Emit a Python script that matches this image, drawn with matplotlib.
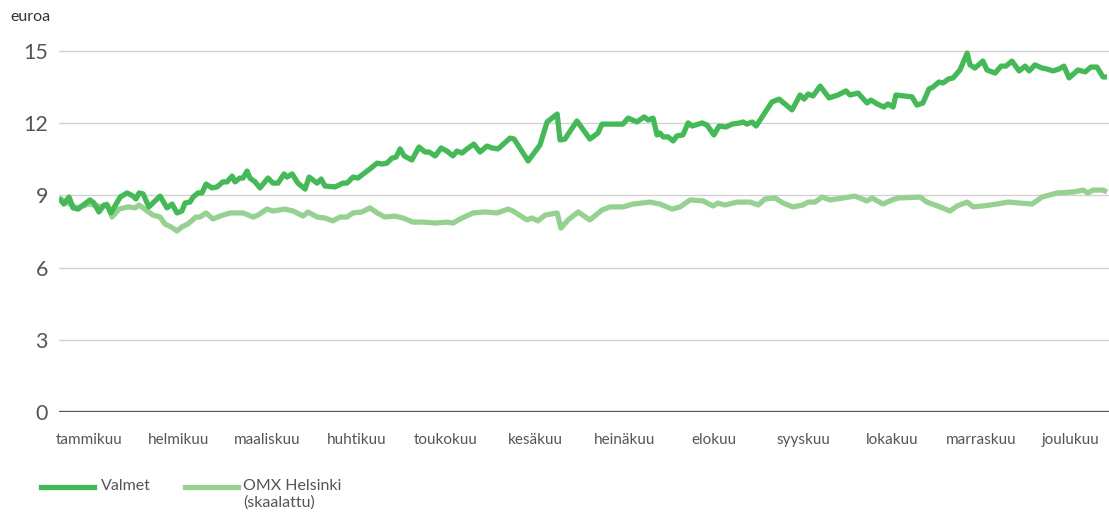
import matplotlib
matplotlib.use("Agg")
import matplotlib.pyplot as plt
from matplotlib.lines import Line2D

plt.rcParams['font.family'] = ['Lato', 'DejaVu Sans']

# day of year, share price (euro)
valmet_day = [0.0, 1.7, 3.5, 4.9, 6.6, 10.8, 12.2, 13.9, 15.7, 16.7, 18.1, 21.3, 23.7, 25.8,
              26.8, 27.9, 29.3, 31.3, 35.2, 37.6, 39.4, 41.1, 42.8, 43.9, 45.6, 46.7, 48.4,
              49.8, 51.2, 53.3, 55.0, 57.1, 58.5, 60.3, 61.3, 63.0, 64.1, 65.5, 66.5, 68.3,
              70.0, 72.8, 74.5, 76.3, 78.4, 79.4, 81.2, 83.2, 85.7, 87.1, 89.9, 91.3, 92.6,
              96.1, 98.9, 100.3, 102.4, 104.1, 108.3, 110.8, 112.5, 114.2, 116.0, 117.4,
              118.8, 120.2, 122.9, 125.4, 127.5, 128.9, 131.0, 133.1, 135.1, 137.2, 138.6,
              140.4, 142.1, 144.5, 146.6, 149.1, 150.8, 152.9, 157.1, 158.5, 163.4, 167.5,
              170.0, 171.7, 173.5, 174.5, 176.2, 180.4, 184.9, 187.7, 189.1, 194.4, 196.4,
              198.2, 201.3, 203.8, 205.2, 206.9, 208.3, 209.3, 210.4, 212.1, 213.9, 215.2,
              217.3, 219.1, 220.5, 224.0, 225.7, 228.1, 229.9, 232.3, 234.4, 237.2, 238.2,
              239.6, 241.4, 242.8, 248.3, 250.8, 255.3, 258.1, 259.5, 260.9, 262.6, 265.1,
              268.2, 271.3, 274.1, 275.5, 278.3, 281.4, 282.8, 284.9, 287.3, 288.7, 290.5,
              291.5, 297.1, 298.8, 300.9, 303.0, 304.4, 306.5, 307.9, 309.7, 311.4, 313.8,
              316.3, 317.3, 319.0, 321.8, 323.2, 326.0, 328.1, 329.8, 331.9, 334.4, 336.5,
              337.9, 339.9, 342.4, 344.1, 346.2, 348.3, 350.0, 351.8, 354.9, 357.4, 359.4,
              361.5, 363.6, 365.0]
valmet = [8.89, 8.64, 8.93, 8.48, 8.43, 8.81, 8.68, 8.31, 8.60, 8.60, 8.27, 8.93, 9.10, 8.97,
          8.85, 9.10, 9.06, 8.52, 8.97, 8.48, 8.64, 8.27, 8.35, 8.68, 8.72, 8.93, 9.10,
          9.10, 9.47, 9.31, 9.35, 9.56, 9.56, 9.80, 9.56, 9.72, 9.72, 10.01, 9.72, 9.56,
          9.31, 9.72, 9.51, 9.51, 9.89, 9.76, 9.89, 9.51, 9.26, 9.76, 9.51, 9.68, 9.39,
          9.35, 9.51, 9.51, 9.76, 9.72, 10.10, 10.34, 10.30, 10.34, 10.55, 10.59,
          10.93, 10.64, 10.47, 11.01, 10.80, 10.80, 10.64, 10.97, 10.84, 10.64, 10.84,
          10.76, 10.93, 11.13, 10.80, 11.05, 10.97, 10.93, 11.38, 11.34, 10.43, 11.09,
          12.05, 12.21, 12.38, 11.30, 11.34, 12.09, 11.34, 11.59, 11.96, 11.96, 11.96,
          12.21, 12.05, 12.26, 12.13, 12.21, 11.51, 11.59, 11.43, 11.43, 11.26, 11.47,
          11.51, 12.01, 11.88, 12.01, 11.92, 11.51, 11.88, 11.84, 11.96, 12.01, 12.05,
          11.96, 12.05, 11.88, 12.88, 13.00, 12.55, 13.17, 13.00, 13.21, 13.13, 13.54,
          13.05, 13.17, 13.34, 13.17, 13.25, 12.84, 12.96, 12.80, 12.67, 12.80, 12.67,
          13.17, 13.09, 12.75, 12.84, 13.42, 13.50, 13.71, 13.67, 13.83, 13.88, 14.21,
          14.91, 14.42, 14.29, 14.58, 14.21, 14.08, 14.37, 14.37, 14.58, 14.17, 14.37,
          14.17, 14.42, 14.29, 14.25, 14.17, 14.25, 14.37, 13.88, 14.21, 14.13, 14.33,
          14.33, 13.92, 13.92]

omx_day = [0.0, 3.1, 6.3, 10.4, 13.6, 15.0, 16.7, 18.5, 20.9, 24.0, 26.5, 27.9, 32.7, 35.2,
           36.9, 39.0, 41.1, 42.8, 44.9, 47.7, 49.1, 51.2, 53.6, 56.1, 59.6, 64.1, 67.6,
           69.3, 72.4, 74.5, 78.7, 81.5, 85.0, 86.7, 89.9, 92.6, 95.4, 97.9, 100.3, 102.4,
           105.5, 108.3, 110.8, 113.5, 117.0, 119.8, 123.3, 126.8, 131.0, 135.1, 137.2,
           139.7, 144.2, 148.4, 152.6, 156.4, 158.1, 163.0, 164.7, 166.8, 169.3, 173.5,
           174.8, 177.3, 180.8, 184.9, 189.1, 191.9, 196.4, 199.9, 205.8, 209.3, 213.5,
           216.3, 219.8, 224.3, 227.8, 229.5, 232.0, 236.1, 240.7, 243.5, 245.9, 249.4,
           252.2, 255.6, 259.1, 260.9, 263.3, 265.8, 268.5, 273.1, 277.2, 281.4, 283.2,
           287.0, 290.1, 292.2, 299.9, 302.3, 306.9, 310.3, 312.8, 316.3, 318.4, 321.8,
           326.7, 330.5, 334.7, 338.9, 342.4, 347.6, 353.2, 356.7, 358.4, 360.1, 363.6,
           365.0]
omx = [8.89, 8.68, 8.48, 8.64, 8.56, 8.52, 8.64, 8.10, 8.43, 8.52, 8.48, 8.60, 8.18, 8.10,
       7.81, 7.69, 7.52, 7.69, 7.81, 8.10, 8.10, 8.27, 8.02, 8.14, 8.27, 8.27, 8.10,
       8.18, 8.43, 8.35, 8.43, 8.35, 8.14, 8.31, 8.10, 8.06, 7.94, 8.10, 8.10, 8.27,
       8.31, 8.48, 8.27, 8.10, 8.14, 8.06, 7.89, 7.89, 7.85, 7.89, 7.85,
       8.02, 8.27, 8.31, 8.27, 8.43, 8.35, 7.98, 8.06, 7.94, 8.18, 8.27,
       7.64, 7.98, 8.31, 7.98, 8.39, 8.52, 8.52, 8.64, 8.72, 8.64, 8.43,
       8.52, 8.81, 8.77, 8.56, 8.68, 8.60, 8.72, 8.72, 8.60, 8.85, 8.89,
       8.68, 8.52, 8.60, 8.72, 8.72, 8.93, 8.81, 8.89, 8.97, 8.77, 8.89,
       8.64, 8.81, 8.89, 8.93, 8.72, 8.52, 8.35, 8.56, 8.72, 8.52, 8.56,
       8.64, 8.72, 8.68, 8.64, 8.93, 9.10, 9.14, 9.22, 9.10, 9.22, 9.22,
       9.14]

months = ['tammikuu', 'helmikuu', 'maaliskuu', 'huhtikuu', 'toukokuu', 'kesäkuu',
          'heinäkuu', 'elokuu', 'syyskuu', 'lokakuu', 'marraskuu', 'joulukuu']
month_pos = [10.4, 41.5, 72.6, 103.7, 134.8, 165.9, 197.0, 228.0, 259.1, 290.2, 321.3, 352.4]
yticks = [0, 3, 6, 9, 12, 15]

c_valmet = '#45b858'
c_omx = '#96d192'
grey = '#555555'

fig = plt.figure(figsize=(11.09, 5.13), dpi=100)
ax = fig.add_axes([59 / 1109, 101 / 513, 1050 / 1109, 15.5 * 24.07 / 513])

ax.plot(omx_day, omx, color=c_omx, lw=3.8, solid_joinstyle='round', solid_capstyle='butt', zorder=3)
ax.plot(valmet_day, valmet, color=c_valmet, lw=3.8, solid_joinstyle='round', solid_capstyle='butt', zorder=4)

ax.set_xlim(0, 365 * 1050 / 1048)
ax.set_ylim(0, 15.5)
ax.set_yticks(yticks)
ax.set_yticklabels([str(v) for v in yticks])
ax.set_xticks(month_pos)
ax.set_xticklabels(months)
ax.tick_params(axis='y', length=0, pad=8, labelsize=15.5, labelcolor=grey)
ax.tick_params(axis='x', length=0, pad=15, labelsize=11, labelcolor=grey)

ax.grid(axis='y', color='#d2d2d2', lw=1.0)
ax.axhline(0, color=grey, lw=2.4, zorder=5)
for s in ax.spines.values():
    s.set_visible(False)

fig.text(10 / 1109, 1 - 17 / 513, 'euroa', fontsize=11.5, color='#333333', va='center', ha='left')

# legend
legend_items = [('Valmet', c_valmet, 41, 101), ('OMX Helsinki\n(skaalattu)', c_omx, 185, 243)]
for label, col, x0, xt in legend_items:
    y = 1 - 487 / 513
    fig.add_artist(Line2D([x0 / 1109, (x0 + 53) / 1109], [y, y], color=col, lw=3.8,
                          transform=fig.transFigure))
    fig.text(xt / 1109, 1 - 479 / 513, label, fontsize=11.5, color=grey, va='top', ha='left',
             linespacing=1.2)

fig.savefig('out.png', dpi=100)
